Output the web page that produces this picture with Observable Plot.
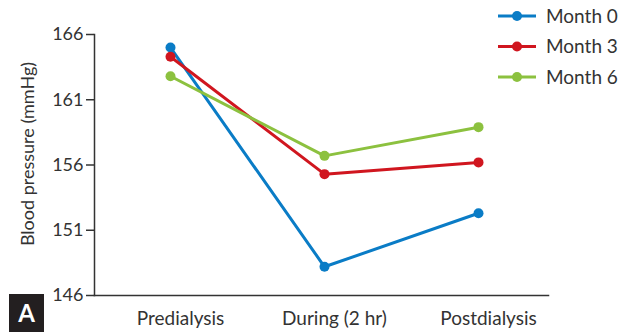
<!DOCTYPE html>
<html><head><meta charset="utf-8">
<script src="https://cdn.jsdelivr.net/npm/d3@7"></script>
<script src="https://cdn.jsdelivr.net/npm/@observablehq/plot@0.6"></script>
<style>
html,body{margin:0;padding:0;background:#fff;}
#chart{position:relative;width:630px;height:332px;}
</style>
</head><body><div id="chart"></div>
<script>
const stages = ["Predialysis", "During (2 hr)", "Postdialysis"];
const seriesNames = ["Month 0", "Month 3", "Month 6"];
const month0 = [165.0, 148.2, 152.3];
const month3 = [164.3, 155.3, 156.2];
const month6 = [162.8, 156.7, 158.9];
const colors = ["#0a7cc6", "#d0161f", "#8cc13f"];
const yTicks = [146, 151, 156, 161, 166];

const seriesValues = [month0, month3, month6];
const data = [];
seriesNames.forEach((s, i) => stages.forEach((st, j) => data.push({series: s, stage: st, value: seriesValues[i][j]})));

const font = "Lato, 'Open Sans', sans-serif";
const plot = Plot.plot({
  width: 630, height: 332,
  marginLeft: 94, marginRight: 82, marginTop: 34, marginBottom: 37,
  style: {fontFamily: font, fontSize: "17px", color: "#333", background: "#fff"},
  x: {type: "point", domain: stages, range: [170, 478], padding: 0, label: null},
  y: {domain: [146, 166], ticks: yTicks, label: null},
  color: {domain: seriesNames, range: colors},
  marks: [
    Plot.frame({anchor: "left", stroke: "#333", strokeWidth: 1.5}),
    Plot.frame({anchor: "bottom", stroke: "#333", strokeWidth: 1.5}),
    Plot.axisY({ticks: yTicks, tickSize: 8, tickPadding: 3, fontSize: 18, label: null, stroke: "#333", strokeWidth: 1.5}),
    Plot.axisX({tickSize: 0, tickPadding: 16, fontSize: 19, dx: 10, label: null}),
    Plot.line(data, {x: "stage", y: "value", z: "series", stroke: "series", strokeWidth: 3}),
    Plot.dot(data, {x: "stage", y: "value", fill: "series", r: 5})
  ]
});
document.getElementById("chart").appendChild(plot);
const svg = d3.select(plot);
// y-axis title
svg.append("text").attr("transform", "translate(34,154) rotate(-90)")
  .attr("text-anchor", "middle").attr("font-size", 18).attr("fill", "#333")
  .style("font-family", font).text("Blood pressure (mmHg)");
// legend
const lg = svg.append("g");
seriesNames.forEach((s, i) => {
  const y = 16 + i * 30.5;
  lg.append("line").attr("x1", 498).attr("x2", 536).attr("y1", y).attr("y2", y)
    .attr("stroke", colors[i]).attr("stroke-width", 3);
  lg.append("circle").attr("cx", 517).attr("cy", y).attr("r", 5).attr("fill", colors[i]);
  lg.append("text").attr("x", 546).attr("y", y).attr("dy", "0.35em").attr("font-size", 19)
    .attr("text-anchor", "start").attr("fill", "#333").style("font-family", font).text(s);
});
// panel label
svg.append("rect").attr("x", 9).attr("y", 294).attr("width", 35).attr("height", 38).attr("fill", "#231f20");
svg.append("text").attr("x", 26.5).attr("y", 322).attr("text-anchor", "middle").attr("font-size", 24)
  .attr("font-weight", "bold").attr("fill", "#fff").style("font-family", font).text("A");
</script>
</body></html>
